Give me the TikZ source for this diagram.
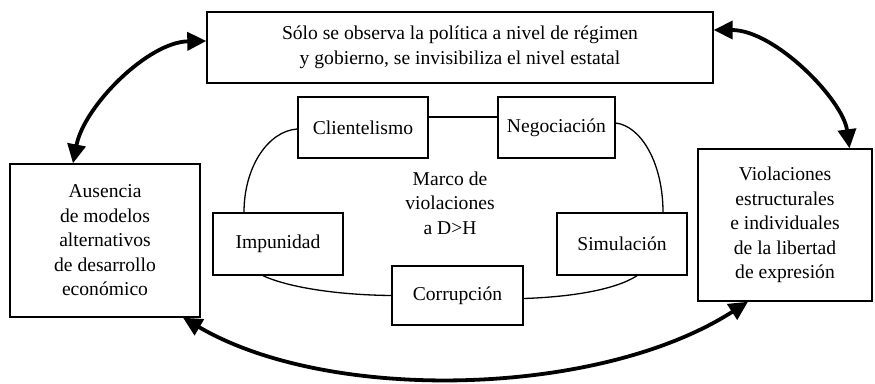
\documentclass[tikz,border=0pt]{standalone}
\usepackage{fontspec}
\setmainfont{Liberation Serif}
\usetikzlibrary{arrows.meta}
\tikzset{
  box/.style={draw, line width=1.4pt, align=center, inner sep=0pt,
    font=\fontsize{19.6}{24.5}\selectfont},
  link/.style={line width=1.3pt},
  bigarrow/.style={line width=3.8pt,
    {Triangle[length=19pt,width=18pt]}-{Triangle[length=19pt,width=18pt]}},
  lbl/.style={align=center, font=\fontsize{19.6}{24.5}\selectfont}
}
\begin{document}
\begin{tikzpicture}[x=1pt,y=-1pt]
\useasboundingbox (0,0) rectangle (875,383);
% main boxes
\node[box, minimum width=506pt, minimum height=71pt] (tb) at (460,47.5)
  {Sólo se observa la política a nivel de régimen\\y gobierno, se invisibiliza el nivel estatal};
\node[box, minimum width=190pt, minimum height=153pt] (lb) at (105,240.5)
  {Ausencia\\de modelos\\alternativos\\de desarrollo\\económico};
\node[box, minimum width=174pt, minimum height=152pt] (rb) at (785,225)
  {Violaciones\\estructurales\\e individuales\\de la libertad\\de expresión};
% inner boxes
\node[box, minimum width=130pt, minimum height=61pt] (cl) at (363,127.5) {Clientelismo};
\node[box, minimum width=117pt, minimum height=61pt] (ng) at (556.5,127.5) {Negociación};
\node[box, minimum width=130pt, minimum height=62pt] (im) at (278,244) {Impunidad};
\node[box, minimum width=130pt, minimum height=62pt] (si) at (622,244) {Simulación};
\node[box, minimum width=131pt, minimum height=59pt] (co) at (457.5,295.5) {Corrupción};
\node[lbl] (mc) at (450,203) {Marco de\\violaciones\\a D>H};
% thin connectors
\draw[link] ([yshift=10.5pt]cl.east) -- ([yshift=10.5pt]ng.west);
\draw[link] ([yshift=-1.5pt]cl.west) .. controls (268,131) and (244,167) .. ([xshift=-34pt]im.north);
\draw[link] ([yshift=4.5pt]ng.east) .. controls (641,126) and (663,163) .. ([xshift=41pt]si.north);
\draw[link] ([xshift=-15pt]im.south) .. controls (290,288) and (340,295) .. (co.west);
\draw[link] ([yshift=-3pt]co.east) .. controls (570,297) and (615,290) .. ([xshift=15pt]si.south);
% thick arrows
\draw[bigarrow] ([yshift=6.5pt]tb.west) .. controls (148,42) and (84,106) .. ([xshift=-32pt]lb.north);
\draw[bigarrow] ([yshift=17.5pt]tb.east) .. controls (775,30) and (843,100) .. ([xshift=64.5pt]rb.north);
\draw[bigarrow] ([xshift=78pt]lb.south) .. controls (330,404) and (600,397) .. ([xshift=-37pt]rb.south);
\end{tikzpicture}
\end{document}
